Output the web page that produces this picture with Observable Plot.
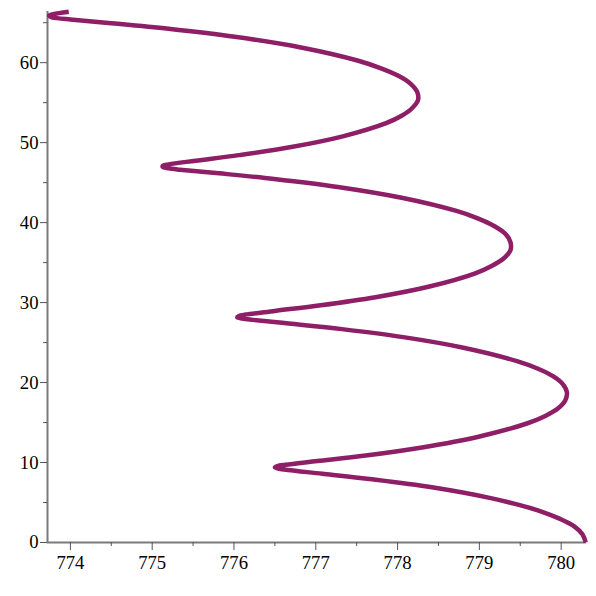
<!DOCTYPE html>
<html>
<head>
<meta charset="utf-8">
<script src="https://cdn.jsdelivr.net/npm/d3@7"></script>
<script src="https://cdn.jsdelivr.net/npm/@observablehq/plot@0.6"></script>
<style>
  html, body { margin: 0; padding: 0; background: #fff; }
  #chart svg { display: block; }
</style>
</head>
<body>
<div id="chart"></div>
<script>
// Curve samples, in drawing order (height y, horizontal position x)
const curveY = [0, 1.02, 2.02, 2.98, 3.90, 4.76, 5.55, 6.90, 7.90, 8.60, 9.06, 9.23, 9.39, 9.55, 9.72, 10.18, 10.88, 11.89, 13.23, 14.88, 15.80, 16.76, 17.76, 18.78, 19.80, 20.80, 21.76, 22.68, 24.33, 25.68, 26.68, 27.38, 27.84, 28.01, 28.17, 28.33, 28.50, 28.96, 29.66, 30.67, 32.01, 33.66, 34.58, 35.55, 36.54, 37.56, 38.58, 39.58, 40.54, 41.46, 43.11, 44.46, 45.46, 46.16, 46.62, 46.79, 46.95, 47.11, 47.28, 47.74, 48.44, 49.45, 50.79, 52.44, 53.36, 54.33, 55.33, 56.34, 57.36, 58.36, 59.32, 60.24, 61.90, 63.24, 64.24, 64.94, 65.40, 65.57, 65.73, 65.89, 66.06, 66.36];
const curveX = [780.30, 780.26, 780.16, 779.98, 779.75, 779.46, 779.14, 778.42, 777.69, 777.08, 776.66, 776.55, 776.50, 776.53, 776.63, 777.02, 777.61, 778.30, 778.99, 779.58, 779.80, 779.96, 780.05, 780.07, 780.02, 779.90, 779.71, 779.46, 778.82, 778.07, 777.32, 776.67, 776.23, 776.10, 776.04, 776.06, 776.14, 776.50, 777.06, 777.73, 778.39, 778.95, 779.15, 779.30, 779.38, 779.38, 779.32, 779.18, 778.98, 778.72, 778.05, 777.27, 776.49, 775.82, 775.34, 775.20, 775.13, 775.13, 775.20, 775.53, 776.06, 776.70, 777.33, 777.86, 778.05, 778.18, 778.25, 778.24, 778.16, 778.01, 777.79, 777.52, 776.82, 776.01, 775.20, 774.50, 774.00, 773.84, 773.76, 773.74, 773.79, 773.98];

const xMajor = [774, 775, 776, 777, 778, 779, 780];
const xMinor = [774.5, 775.5, 776.5, 777.5, 778.5, 779.5];
const yMajor = [0, 10, 20, 30, 40, 50, 60];
const yMinor = [5, 15, 25, 35, 45, 55, 65];
const xDomain = [773.72, 780.31];
const yDomain = [0, 66.4];

const data = curveY.map((y, i) => ({x: curveX[i], y}));

const font = "'Liberation Serif', 'Times New Roman', serif";
const axisColor = "#7a7a7a";

const chart = Plot.plot({
  width: 596,
  height: 596,
  marginLeft: 47,
  marginRight: 10,
  marginTop: 11,
  marginBottom: 54,
  style: {background: "#fff", fontFamily: font, color: "#000"},
  x: {domain: xDomain, axis: null},
  y: {domain: yDomain, axis: null},
  marks: [
    Plot.ruleY([yDomain[0]], {stroke: axisColor, strokeWidth: 2}),
    Plot.ruleX([xDomain[0]], {stroke: axisColor, strokeWidth: 2}),
    Plot.axisX({ticks: xMajor, label: null, tickSize: 8, tickPadding: 5, fontSize: 18.7, tickFormat: d => String(d), stroke: "#555", fill: "#000"}),
    Plot.axisX({ticks: xMinor, label: null, tickSize: 4, text: null, stroke: "#555"}),
    Plot.axisY({ticks: yMajor, label: null, tickSize: 7, tickPadding: 2, fontSize: 18.7, tickFormat: d => String(d), stroke: "#555", fill: "#000"}),
    Plot.axisY({ticks: yMinor, label: null, tickSize: 4, text: null, stroke: "#555"}),
    Plot.line(data, {x: "x", y: "y", curve: "catmull-rom", stroke: "#8e1e66", strokeWidth: 4.5, strokeLinejoin: "round", strokeLinecap: "butt"})
  ]
});
document.getElementById("chart").appendChild(chart);
</script>
</body>
</html>
